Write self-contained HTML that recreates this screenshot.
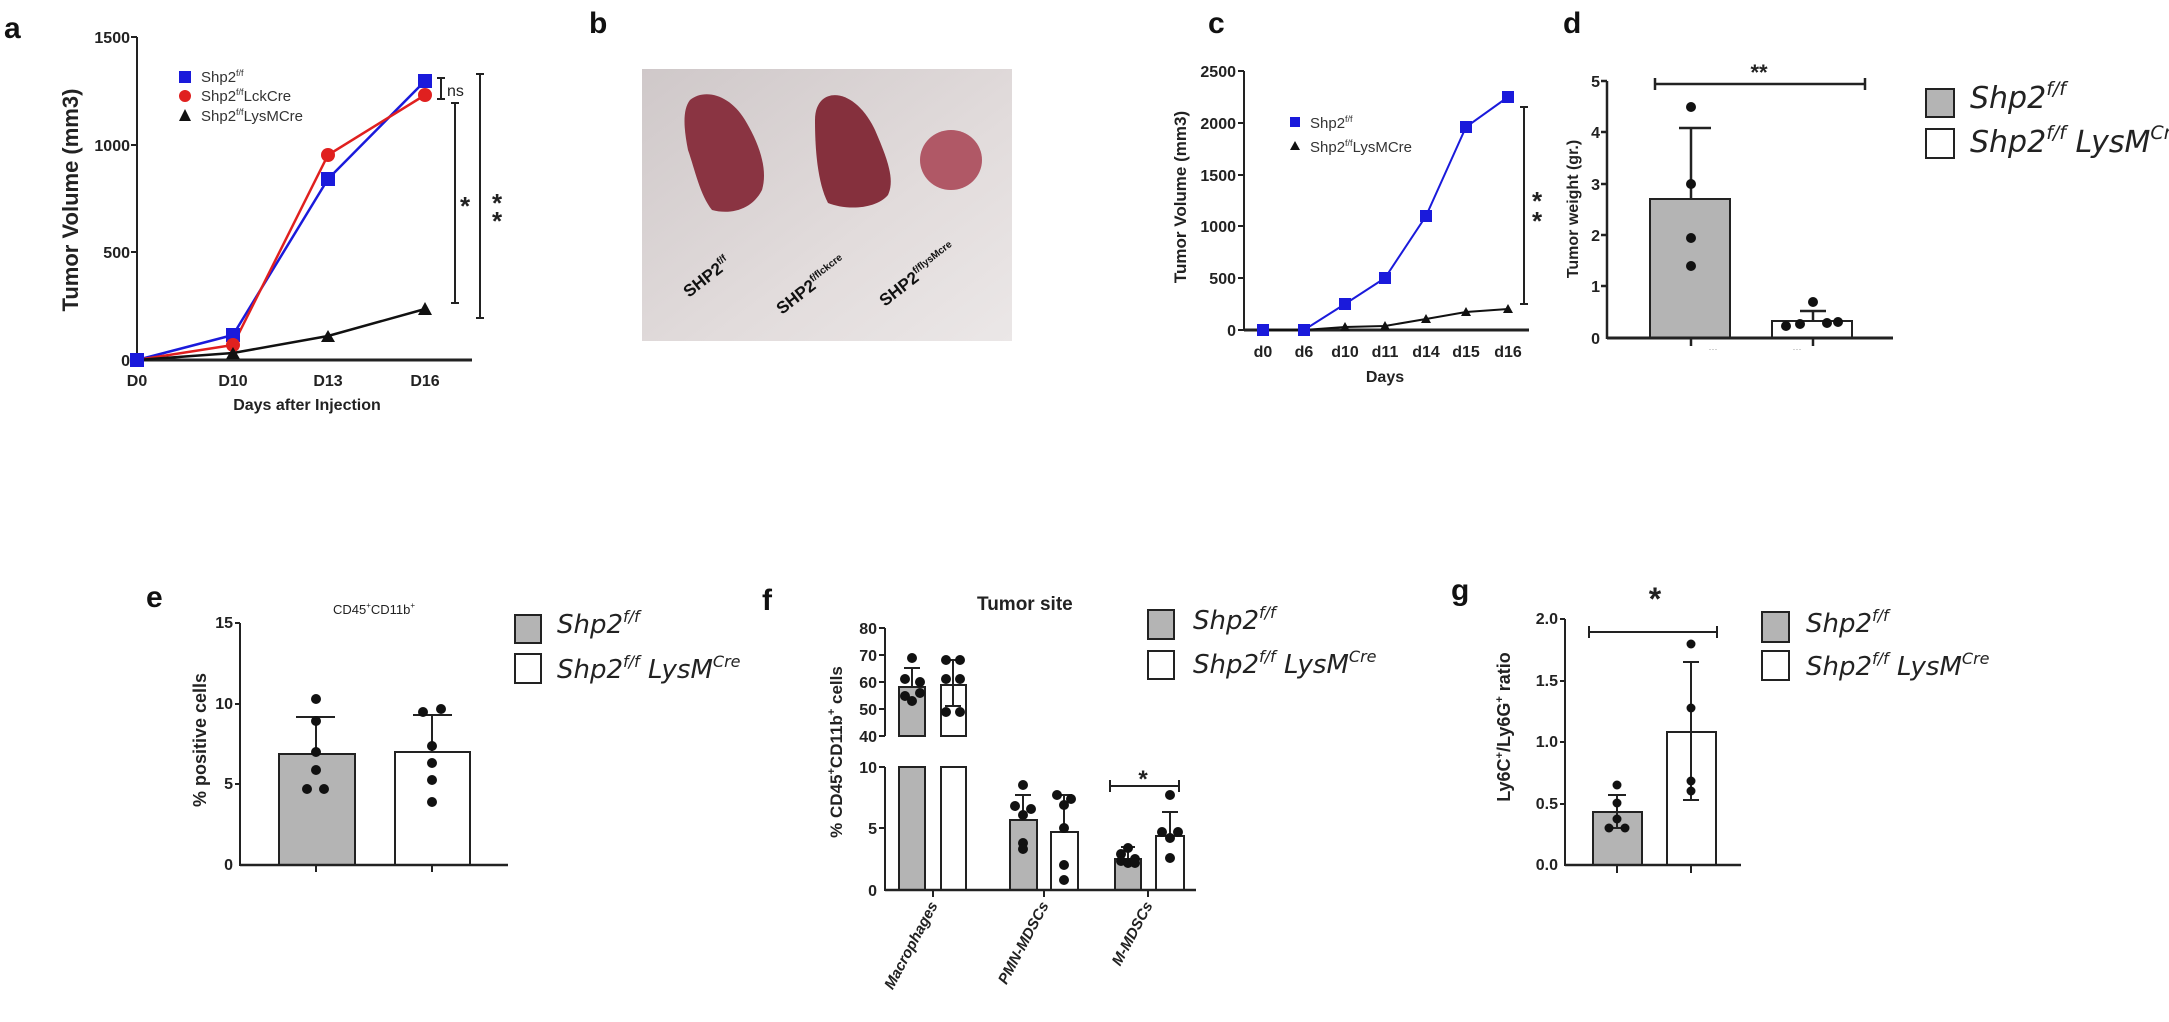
<!DOCTYPE html>
<html><head><meta charset="utf-8"><style>
html,body{margin:0;padding:0;background:#fff;}
svg{display:block;font-family:"Liberation Sans",Arial,sans-serif;}
.t{font-size:16px;font-weight:bold;fill:#222;}
.lg{font-family:"DejaVu Sans","Liberation Sans",sans-serif;font-style:italic;fill:#222;}
.L{font-size:30px;font-weight:bold;fill:#111;}
</style></head><body>
<svg width="2169" height="1022" viewBox="0 0 2169 1022" xmlns="http://www.w3.org/2000/svg">
<defs>
<linearGradient id="bg" x1="0" y1="0" x2="1" y2="1"><stop offset="0" stop-color="#cfc8c9"/><stop offset="0.6" stop-color="#e2dcdc"/><stop offset="1" stop-color="#ebe7e7"/></linearGradient>
</defs>
<!-- ===== Panel a ===== -->
<text x="4" y="38" class="L">a</text>
<g stroke="#222" stroke-width="2" fill="none">
<line x1="137" y1="37" x2="137" y2="361"/>
<line x1="137" y1="360" x2="472" y2="360" stroke-width="3"/>
<line x1="131" y1="37" x2="137" y2="37"/><line x1="131" y1="145" x2="137" y2="145"/><line x1="131" y1="252" x2="137" y2="252"/><line x1="131" y1="360" x2="137" y2="360"/>
</g>
<g class="t" text-anchor="end" font-size="15"><text x="130" y="43">1500</text><text x="130" y="151">1000</text><text x="130" y="258">500</text><text x="130" y="366">0</text></g>
<g class="t" text-anchor="middle"><text x="137" y="386">D0</text><text x="233" y="386">D10</text><text x="328" y="386">D13</text><text x="425" y="386">D16</text>
<text x="307" y="410">Days after Injection</text></g>
<text transform="translate(78,200) rotate(-90)" text-anchor="middle" font-size="22" font-weight="bold" fill="#222">Tumor Volume  (mm3)</text>
<polyline points="137,360 233,335 328,179 425,81" fill="none" stroke="#1a1adb" stroke-width="2.5"/>
<polyline points="137,360 233,345 328,155 425,95" fill="none" stroke="#e0201f" stroke-width="2.5"/>
<polyline points="137,360 233,353 328,336 425,309" fill="none" stroke="#111" stroke-width="2.5"/>
<g fill="#1a1adb"><rect x="130" y="353" width="14" height="14"/><rect x="226" y="328" width="14" height="14"/><rect x="321" y="172" width="14" height="14"/><rect x="418" y="74" width="14" height="14"/></g>
<g fill="#e0201f"><circle cx="233" cy="345" r="7"/><circle cx="328" cy="155" r="7"/><circle cx="425" cy="95" r="7"/></g>
<g fill="#111"><polygon points="233,347 226,359 240,359"/><polygon points="328,330 321,342 335,342"/><polygon points="425,302 418,315 432,315"/></g>
<rect x="179" y="71" width="12" height="12" fill="#1a1adb"/><circle cx="185" cy="96" r="6" fill="#e0201f"/><polygon points="185,109 179,121 191,121" fill="#111"/>
<g font-size="15" fill="#333"><text x="201" y="82">Shp2<tspan font-size="9" dy="-6">f/f</tspan></text><text x="201" y="101">Shp2<tspan font-size="9" dy="-6">f/f</tspan><tspan dy="6">LckCre</tspan></text><text x="201" y="121">Shp2<tspan font-size="9" dy="-6">f/f</tspan><tspan dy="6">LysMCre</tspan></text></g>
<g stroke="#222" stroke-width="2"><line x1="441" y1="78" x2="441" y2="99"/><line x1="437" y1="78" x2="445" y2="78"/><line x1="437" y1="99" x2="445" y2="99"/>
<line x1="455" y1="103" x2="455" y2="303"/><line x1="451" y1="103" x2="459" y2="103"/><line x1="451" y1="303" x2="459" y2="303"/>
<line x1="480" y1="74" x2="480" y2="318"/><line x1="476" y1="74" x2="484" y2="74"/><line x1="476" y1="318" x2="484" y2="318"/></g>
<text x="447" y="96" font-size="16" fill="#222">ns</text>
<g font-size="26" font-weight="bold" fill="#222" text-anchor="middle"><text x="465" y="215">*</text><text x="497" y="212">*</text><text x="497" y="230">*</text></g>
<!-- ===== Panel b ===== -->
<text x="589" y="33" class="L">b</text>
<rect x="642" y="69" width="370" height="272" fill="url(#bg)"/>
<path d="M690,100 C705,88 730,95 745,120 C760,145 768,170 762,190 C752,210 730,215 712,210 C700,195 695,170 688,150 C684,130 682,110 690,100 Z" fill="#8a3442"/>
<path d="M822,100 C835,88 860,98 875,130 C888,160 895,180 888,195 C875,210 845,210 828,203 C816,180 815,140 815,120 C815,110 818,104 822,100 Z" fill="#85303d"/>
<ellipse cx="951" cy="160" rx="31" ry="30" fill="#b05866"/>
<g font-weight="bold" font-size="17" fill="#111"><text transform="translate(689,298) rotate(-38)">SHP2<tspan font-size="10" dy="-7">f/f</tspan></text>
<text transform="translate(782,315) rotate(-38)">SHP2<tspan font-size="10" dy="-7">f/flckcre</tspan></text>
<text transform="translate(885,307) rotate(-38)">SHP2<tspan font-size="10" dy="-7">f/flysMcre</tspan></text></g>
<!-- ===== Panel c ===== -->
<text x="1208" y="33" class="L">c</text>
<g stroke="#222" stroke-width="2"><line x1="1244" y1="71" x2="1244" y2="331"/><line x1="1244" y1="330" x2="1529" y2="330" stroke-width="3"/>
<line x1="1238" y1="71" x2="1244" y2="71"/><line x1="1238" y1="123" x2="1244" y2="123"/><line x1="1238" y1="175" x2="1244" y2="175"/><line x1="1238" y1="226" x2="1244" y2="226"/><line x1="1238" y1="278" x2="1244" y2="278"/><line x1="1238" y1="330" x2="1244" y2="330"/></g>
<g class="t" text-anchor="end" font-size="15"><text x="1236" y="77">2500</text><text x="1236" y="129">2000</text><text x="1236" y="181">1500</text><text x="1236" y="232">1000</text><text x="1236" y="284">500</text><text x="1236" y="336">0</text></g>
<g class="t" text-anchor="middle"><text x="1263" y="357">d0</text><text x="1304" y="357">d6</text><text x="1345" y="357">d10</text><text x="1385" y="357">d11</text><text x="1426" y="357">d14</text><text x="1466" y="357">d15</text><text x="1508" y="357">d16</text>
<text x="1385" y="382">Days</text></g>
<text transform="translate(1186,197) rotate(-90)" text-anchor="middle" font-size="17" font-weight="bold" fill="#222">Tumor Volume  (mm3)</text>
<polyline points="1263,330 1304,330 1345,304 1385,278 1426,216 1466,127 1508,97" fill="none" stroke="#1a1adb" stroke-width="2"/>
<polyline points="1263,330 1304,330 1345,327 1385,326 1426,319 1466,312 1508,309" fill="none" stroke="#111" stroke-width="2"/>
<g fill="#1a1adb"><rect x="1257" y="324" width="12" height="12"/><rect x="1298" y="324" width="12" height="12"/><rect x="1339" y="298" width="12" height="12"/><rect x="1379" y="272" width="12" height="12"/><rect x="1420" y="210" width="12" height="12"/><rect x="1460" y="121" width="12" height="12"/><rect x="1502" y="91" width="12" height="12"/></g>
<g fill="#111"><polygon points="1345,322 1340,331 1350,331"/><polygon points="1385,321 1380,330 1390,330"/><polygon points="1426,314 1421,323 1431,323"/><polygon points="1466,307 1461,316 1471,316"/><polygon points="1508,304 1503,313 1513,313"/></g>
<rect x="1290" y="117" width="10" height="10" fill="#1a1adb"/><polygon points="1295,141 1290,150 1300,150" fill="#111"/>
<g font-size="15" fill="#333"><text x="1310" y="128">Shp2<tspan font-size="9" dy="-6">f/f</tspan></text><text x="1310" y="152">Shp2<tspan font-size="9" dy="-6">f/f</tspan><tspan dy="6">LysMCre</tspan></text></g>
<g stroke="#222" stroke-width="2"><line x1="1524" y1="107" x2="1524" y2="304"/><line x1="1520" y1="107" x2="1528" y2="107"/><line x1="1520" y1="304" x2="1528" y2="304"/></g>
<g font-size="26" font-weight="bold" fill="#222" text-anchor="middle"><text x="1537" y="210">*</text><text x="1537" y="230">*</text></g>
<!-- ===== Panel d ===== -->
<text x="1563" y="33" class="L">d</text>
<rect x="1650" y="199" width="80" height="139" fill="#b4b4b4" stroke="#222" stroke-width="2"/>
<rect x="1772" y="321" width="80" height="17" fill="#fff" stroke="#222" stroke-width="2"/>
<g stroke="#222" stroke-width="2.5"><line x1="1691" y1="199" x2="1691" y2="128"/><line x1="1679" y1="128" x2="1711" y2="128"/>
<line x1="1813" y1="321" x2="1813" y2="311"/><line x1="1800" y1="311" x2="1826" y2="311"/>
<line x1="1607" y1="81" x2="1607" y2="339"/><line x1="1607" y1="338" x2="1893" y2="338" stroke-width="3"/>
<line x1="1601" y1="81" x2="1607" y2="81"/><line x1="1601" y1="132" x2="1607" y2="132"/><line x1="1601" y1="184" x2="1607" y2="184"/><line x1="1601" y1="235" x2="1607" y2="235"/><line x1="1601" y1="286" x2="1607" y2="286"/>
<line x1="1691" y1="338" x2="1691" y2="346"/><line x1="1813" y1="338" x2="1813" y2="346"/>
<line x1="1655" y1="84" x2="1865" y2="84"/><line x1="1655" y1="78" x2="1655" y2="90"/><line x1="1865" y1="78" x2="1865" y2="90"/></g>
<g class="t" text-anchor="end" font-size="15"><text x="1600" y="87">5</text><text x="1600" y="138">4</text><text x="1600" y="190">3</text><text x="1600" y="241">2</text><text x="1600" y="292">1</text><text x="1600" y="344">0</text></g>
<g fill="#999" font-size="9" text-anchor="middle"><text x="1713" y="352">···</text><text x="1797" y="352">···</text></g>
<text x="1759" y="80" text-anchor="middle" font-size="22" font-weight="bold" fill="#222">**</text>
<text transform="translate(1578,209) rotate(-90)" text-anchor="middle" font-size="16" font-weight="bold" fill="#222">Tumor weight (gr.)</text>
<g fill="#111"><circle cx="1691" cy="107" r="5"/><circle cx="1691" cy="184" r="5"/><circle cx="1691" cy="238" r="5"/><circle cx="1691" cy="266" r="5"/>
<circle cx="1786" cy="326" r="5"/><circle cx="1800" cy="324" r="5"/><circle cx="1813" cy="302" r="5"/><circle cx="1827" cy="323" r="5"/><circle cx="1838" cy="322" r="5"/></g>
<rect x="1926" y="89" width="28" height="28" fill="#b4b4b4" stroke="#222" stroke-width="2"/>
<rect x="1926" y="129" width="28" height="29" fill="#fff" stroke="#222" stroke-width="2"/>
<g class="lg" font-size="30"><text x="1970" y="108">Shp2<tspan font-size="19" dy="-13">f/f</tspan></text><text x="1970" y="152">Shp2<tspan font-size="19" dy="-13">f/f</tspan><tspan dy="13"> LysM</tspan><tspan font-size="19" dy="-13">Cre</tspan></text></g>
<!-- ===== Panel e ===== -->
<text x="146" y="607" class="L">e</text>
<text x="374" y="614" text-anchor="middle" font-size="13" fill="#222">CD45<tspan font-size="8" dy="-6">+</tspan><tspan dy="6">CD11b</tspan><tspan font-size="8" dy="-6">+</tspan></text>
<rect x="279" y="754" width="76" height="111" fill="#b4b4b4" stroke="#222" stroke-width="2"/>
<rect x="395" y="752" width="75" height="113" fill="#fff" stroke="#222" stroke-width="2"/>
<g stroke="#222" stroke-width="2"><line x1="316" y1="754" x2="316" y2="717"/><line x1="296" y1="717" x2="335" y2="717"/>
<line x1="432" y1="752" x2="432" y2="715"/><line x1="413" y1="715" x2="452" y2="715"/>
<line x1="240" y1="623" x2="240" y2="866"/><line x1="240" y1="865" x2="508" y2="865" stroke-width="2.5"/>
<line x1="235" y1="623" x2="240" y2="623"/><line x1="235" y1="704" x2="240" y2="704"/><line x1="235" y1="784" x2="240" y2="784"/>
<line x1="316" y1="865" x2="316" y2="872"/><line x1="432" y1="865" x2="432" y2="872"/></g>
<g class="t" text-anchor="end" font-size="13"><text x="233" y="628">15</text><text x="233" y="709">10</text><text x="233" y="789">5</text><text x="233" y="870">0</text></g>
<text transform="translate(206,740) rotate(-90)" text-anchor="middle" font-size="18" font-weight="bold" fill="#222">% positive cells</text>
<g fill="#111"><circle cx="316" cy="699" r="5"/><circle cx="316" cy="721" r="5"/><circle cx="316" cy="752" r="5"/><circle cx="316" cy="770" r="5"/><circle cx="307" cy="789" r="5"/><circle cx="324" cy="789" r="5"/>
<circle cx="423" cy="712" r="5"/><circle cx="441" cy="709" r="5"/><circle cx="432" cy="746" r="5"/><circle cx="432" cy="763" r="5"/><circle cx="432" cy="780" r="5"/><circle cx="432" cy="802" r="5"/></g>
<rect x="515" y="615" width="26" height="28" fill="#b4b4b4" stroke="#222" stroke-width="2"/>
<rect x="515" y="654" width="26" height="29" fill="#fff" stroke="#222" stroke-width="2"/>
<g class="lg" font-size="26"><text x="557" y="633">Shp2<tspan font-size="16" dy="-11">f/f</tspan></text><text x="557" y="678">Shp2<tspan font-size="16" dy="-11">f/f</tspan><tspan dy="11"> LysM</tspan><tspan font-size="16" dy="-11">Cre</tspan></text></g>
<!-- ===== Panel f ===== -->
<text x="762" y="610" class="L">f</text>
<text x="977" y="610" font-size="19" font-weight="bold" fill="#222">Tumor site</text>
<!-- macro bars -->
<rect x="899" y="687" width="26" height="49" fill="#b4b4b4" stroke="#222" stroke-width="2"/>
<rect x="899" y="767" width="26" height="123" fill="#b4b4b4" stroke="#222" stroke-width="2"/>
<rect x="941" y="685" width="25" height="51" fill="#fff" stroke="#222" stroke-width="2"/>
<rect x="941" y="767" width="25" height="123" fill="#fff" stroke="#222" stroke-width="2"/>
<rect x="895" y="737" width="75" height="29" fill="#fff"/>
<rect x="1010" y="820" width="27" height="70" fill="#b4b4b4" stroke="#222" stroke-width="2"/>
<rect x="1051" y="832" width="27" height="58" fill="#fff" stroke="#222" stroke-width="2"/>
<rect x="1115" y="859" width="26" height="31" fill="#b4b4b4" stroke="#222" stroke-width="2"/>
<rect x="1156" y="836" width="28" height="54" fill="#fff" stroke="#222" stroke-width="2"/>
<g stroke="#222" stroke-width="2"><line x1="912" y1="687" x2="912" y2="668"/><line x1="904" y1="668" x2="920" y2="668"/>
<line x1="953" y1="660" x2="953" y2="706"/><line x1="945" y1="660" x2="961" y2="660"/><line x1="945" y1="706" x2="961" y2="706"/>
<line x1="1023" y1="820" x2="1023" y2="795"/><line x1="1015" y1="795" x2="1031" y2="795"/>
<line x1="1064" y1="832" x2="1064" y2="795"/><line x1="1056" y1="795" x2="1072" y2="795"/>
<line x1="1128" y1="859" x2="1128" y2="847"/><line x1="1121" y1="847" x2="1135" y2="847"/>
<line x1="1170" y1="836" x2="1170" y2="812"/><line x1="1162" y1="812" x2="1178" y2="812"/>
<line x1="885" y1="628" x2="885" y2="736"/><line x1="885" y1="767" x2="885" y2="891"/>
<line x1="879" y1="628" x2="885" y2="628"/><line x1="879" y1="655" x2="885" y2="655"/><line x1="879" y1="682" x2="885" y2="682"/><line x1="879" y1="709" x2="885" y2="709"/><line x1="879" y1="736" x2="885" y2="736"/>
<line x1="879" y1="767" x2="885" y2="767"/><line x1="879" y1="828" x2="885" y2="828"/>
<line x1="885" y1="890" x2="1196" y2="890" stroke-width="2.5"/>
<line x1="933" y1="890" x2="933" y2="897"/><line x1="1044" y1="890" x2="1044" y2="897"/><line x1="1148" y1="890" x2="1148" y2="897"/>
<line x1="1110" y1="786" x2="1179" y2="786"/><line x1="1110" y1="780" x2="1110" y2="792"/><line x1="1179" y1="780" x2="1179" y2="792"/></g>
<text x="1143" y="787" text-anchor="middle" font-size="24" font-weight="bold" fill="#222">*</text>
<g class="t" text-anchor="end" font-size="15"><text x="877" y="634">80</text><text x="877" y="661">70</text><text x="877" y="688">60</text><text x="877" y="715">50</text><text x="877" y="742">40</text><text x="877" y="773">10</text><text x="877" y="834">5</text><text x="877" y="896">0</text></g>
<text transform="translate(842,752) rotate(-90)" text-anchor="middle" font-size="17" font-weight="bold" fill="#222">% CD45<tspan font-size="11" dy="-7">+</tspan><tspan dy="7">CD11b</tspan><tspan font-size="11" dy="-7">+</tspan><tspan dy="7"> cells</tspan></text>
<g font-size="15" font-weight="bold" font-style="italic" fill="#222" text-anchor="end"><text transform="translate(938,905) rotate(-62)">Macrophages</text><text transform="translate(1049,905) rotate(-62)">PMN-MDSCs</text><text transform="translate(1153,905) rotate(-62)">M-MDSCs</text></g>
<g fill="#111"><circle cx="912" cy="658" r="5"/><circle cx="905" cy="679" r="5"/><circle cx="920" cy="682" r="5"/><circle cx="905" cy="696" r="5"/><circle cx="912" cy="701" r="5"/><circle cx="920" cy="693" r="5"/>
<circle cx="946" cy="660" r="5"/><circle cx="960" cy="660" r="5"/><circle cx="946" cy="679" r="5"/><circle cx="960" cy="679" r="5"/><circle cx="946" cy="712" r="5"/><circle cx="960" cy="712" r="5"/>
<circle cx="1023" cy="785" r="5"/><circle cx="1015" cy="806" r="5"/><circle cx="1031" cy="809" r="5"/><circle cx="1023" cy="815" r="5"/><circle cx="1023" cy="843" r="5"/><circle cx="1023" cy="849" r="5"/>
<circle cx="1057" cy="795" r="5"/><circle cx="1071" cy="799" r="5"/><circle cx="1064" cy="805" r="5"/><circle cx="1064" cy="828" r="5"/><circle cx="1064" cy="865" r="5"/><circle cx="1064" cy="880" r="5"/>
<circle cx="1128" cy="848" r="5"/><circle cx="1121" cy="854" r="5"/><circle cx="1135" cy="859" r="5"/><circle cx="1121" cy="861" r="5"/><circle cx="1128" cy="863" r="5"/><circle cx="1135" cy="863" r="5"/>
<circle cx="1170" cy="795" r="5"/><circle cx="1162" cy="832" r="5"/><circle cx="1178" cy="832" r="5"/><circle cx="1170" cy="838" r="5"/><circle cx="1170" cy="858" r="5"/></g>
<rect x="1148" y="610" width="26" height="29" fill="#b4b4b4" stroke="#222" stroke-width="2"/>
<rect x="1148" y="651" width="26" height="28" fill="#fff" stroke="#222" stroke-width="2"/>
<g class="lg" font-size="26"><text x="1193" y="629">Shp2<tspan font-size="16" dy="-11">f/f</tspan></text><text x="1193" y="673">Shp2<tspan font-size="16" dy="-11">f/f</tspan><tspan dy="11"> LysM</tspan><tspan font-size="16" dy="-11">Cre</tspan></text></g>
<!-- ===== Panel g ===== -->
<text x="1451" y="600" class="L">g</text>
<text x="1655" y="610" text-anchor="middle" font-size="32" font-weight="bold" fill="#222">*</text>
<rect x="1593" y="812" width="49" height="53" fill="#b4b4b4" stroke="#222" stroke-width="2"/>
<rect x="1667" y="732" width="49" height="133" fill="#fff" stroke="#222" stroke-width="2"/>
<g stroke="#222" stroke-width="2"><line x1="1617" y1="795" x2="1617" y2="828"/><line x1="1608" y1="795" x2="1626" y2="795"/><line x1="1608" y1="828" x2="1626" y2="828"/>
<line x1="1691" y1="662" x2="1691" y2="800"/><line x1="1683" y1="662" x2="1699" y2="662"/><line x1="1683" y1="800" x2="1699" y2="800"/>
<line x1="1565" y1="619" x2="1565" y2="866"/><line x1="1565" y1="865" x2="1741" y2="865" stroke-width="2.5"/>
<line x1="1560" y1="619" x2="1565" y2="619"/><line x1="1560" y1="681" x2="1565" y2="681"/><line x1="1560" y1="742" x2="1565" y2="742"/><line x1="1560" y1="804" x2="1565" y2="804"/>
<line x1="1617" y1="865" x2="1617" y2="873"/><line x1="1691" y1="865" x2="1691" y2="873"/>
<line x1="1589" y1="632" x2="1717" y2="632"/><line x1="1589" y1="626" x2="1589" y2="638"/><line x1="1717" y1="626" x2="1717" y2="638"/></g>
<g class="t" text-anchor="end" font-size="13"><text x="1558" y="624">2.0</text><text x="1558" y="686">1.5</text><text x="1558" y="747">1.0</text><text x="1558" y="809">0.5</text><text x="1558" y="870">0.0</text></g>
<text transform="translate(1510,727) rotate(-90)" text-anchor="middle" font-size="18" font-weight="bold" fill="#222">Ly6C<tspan font-size="11" dy="-7">+</tspan><tspan dy="7">/Ly6G</tspan><tspan font-size="11" dy="-7">+</tspan><tspan dy="7"> ratio</tspan></text>
<g fill="#111"><circle cx="1617" cy="785" r="4.5"/><circle cx="1617" cy="803" r="4.5"/><circle cx="1617" cy="819" r="4.5"/><circle cx="1609" cy="828" r="4.5"/><circle cx="1625" cy="828" r="4.5"/>
<circle cx="1691" cy="644" r="4.5"/><circle cx="1691" cy="708" r="4.5"/><circle cx="1691" cy="781" r="4.5"/><circle cx="1691" cy="791" r="4.5"/></g>
<rect x="1762" y="612" width="27" height="30" fill="#b4b4b4" stroke="#222" stroke-width="2"/>
<rect x="1762" y="651" width="27" height="29" fill="#fff" stroke="#222" stroke-width="2"/>
<g class="lg" font-size="26"><text x="1806" y="632">Shp2<tspan font-size="16" dy="-11">f/f</tspan></text><text x="1806" y="675">Shp2<tspan font-size="16" dy="-11">f/f</tspan><tspan dy="11"> LysM</tspan><tspan font-size="16" dy="-11">Cre</tspan></text></g>
</svg>
</body></html>
